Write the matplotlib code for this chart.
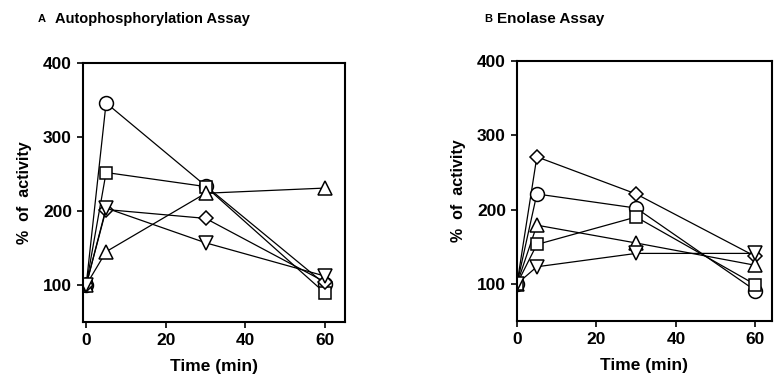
import matplotlib
matplotlib.use('Agg')
import matplotlib.pyplot as plt

plt.rcParams['font.family'] = ['Liberation Sans', 'DejaVu Sans']
plt.rcParams['font.weight'] = 'bold'

# time points (min)
times = [0, 5, 30, 60]

# panel A: autophosphorylation assay
a_circle = [100, 346, 234, 101]
a_square = [100, 252, 233, 89]
a_tri_up = [100, 145, 224, 231]
a_diamond = [100, 202, 190, 104]
a_tri_down = [100, 204, 157, 112]

# panel B: enolase assay
b_diamond = [100, 271, 221, 137]
b_circle = [100, 221, 202, 91]
b_tri_up = [100, 179, 155, 125]
b_square = [100, 153, 190, 99]
b_tri_down = [100, 123, 141, 141]

fig = plt.figure(figsize=(7.74, 3.77), dpi=100)

ax_a = fig.add_axes([83/774, 1-322/377, (345-83)/774, (322-63)/377])
ax_b = fig.add_axes([517/774, 1-321/377, (772-517)/774, (321-61)/377])

mk = dict(color='black', lw=0.9, mfc='white', mec='black', mew=1.1)

ax_a.plot(times, a_circle, marker='o', ms=10, **mk)
ax_a.plot(times, a_square, marker='s', ms=9, **mk)
ax_a.plot(times, a_tri_up, marker='^', ms=10, **mk)
ax_a.plot(times, a_diamond, marker='D', ms=7, **mk)
ax_a.plot(times, a_tri_down, marker='v', ms=10, **mk)

ax_b.plot(times, b_diamond, marker='D', ms=7, **mk)
ax_b.plot(times, b_circle, marker='o', ms=10, **mk)
ax_b.plot(times, b_tri_up, marker='^', ms=10, **mk)
ax_b.plot(times, b_square, marker='s', ms=9, **mk)
ax_b.plot(times, b_tri_down, marker='v', ms=10, **mk)

for ax, xmin, xmax in [(ax_a, -0.8, 65), (ax_b, 0, 64.2)]:
    ax.set_xlim(xmin, xmax)
    ax.set_ylim(50, 400)
    ax.set_xticks([0, 20, 40, 60])
    ax.set_yticks([100, 200, 300, 400])
    ax.tick_params(direction='out', length=4, width=1.2, labelsize=12.5, pad=4)
    for lbl in ax.get_xticklabels() + ax.get_yticklabels():
        lbl.set_fontweight('bold')
    for s in ax.spines.values():
        s.set_linewidth(1.5)
    ax.set_xlabel('Time (min)', fontsize=12.5, fontweight='bold', labelpad=8)
    ax.set_ylabel('%  of  activity', fontsize=11.5, fontweight='bold', labelpad=8)

fig.text(38/774, 1-19/377, 'A', fontsize=8, fontweight='bold', va='center')
fig.text(55/774, 1-19/377, 'Autophosphorylation Assay', fontsize=10.5, fontweight='bold', va='center')
fig.text(484/774, 1-19/377, 'B', fontsize=8, fontweight='bold', va='center')
fig.text(497/774, 1-19/377, 'Enolase Assay', fontsize=11, fontweight='bold', va='center')

fig.savefig('out.png', dpi=100)
